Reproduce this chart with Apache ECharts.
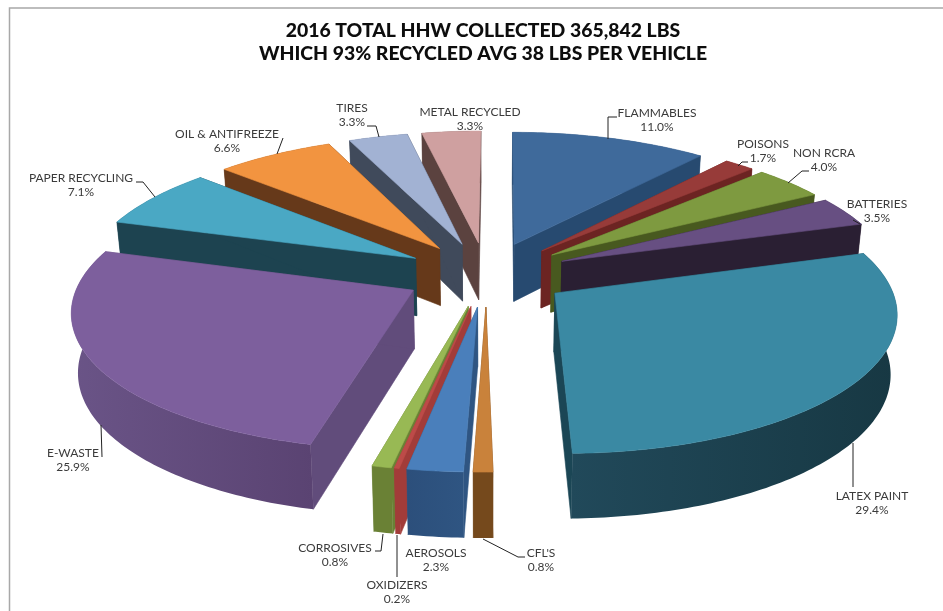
<!DOCTYPE html>
<html>
<head>
<meta charset="utf-8">
<title>2016 HHW collected</title>
<style>html,body{margin:0;padding:0;background:#fff}#chart{width:943px;height:611px}</style>
<script src="https://cdn.jsdelivr.net/npm/echarts@6/dist/echarts.min.js"></script>
</head>
<body>
<div id="chart"></div>
<script>
// Household hazardous waste shares, clockwise from twelve o'clock
const categories = ['FLAMMABLES', 'POISONS', 'NON RCRA', 'BATTERIES', 'LATEX PAINT', "CFL'S", 'AEROSOLS',
  'OXIDIZERS', 'CORROSIVES', 'E-WASTE', 'PAPER RECYCLING', 'OIL & ANTIFREEZE', 'TIRES', 'METAL RECYCLED'];
const shares = [11.0, 1.7, 4.0, 3.5, 29.4, 0.8, 2.3, 0.2, 0.8, 25.9, 7.1, 6.6, 3.3, 3.3];

const topColors = ['#3f6a9b', '#973b39', '#7e9a40', '#674f82', '#3a89a3', '#c9823b', '#4a7fbb',
  '#bd4b48', '#98b954', '#7d5f9d', '#4aa8c4', '#f29440', '#a2b2d3', '#cfa0a0'];
const wallColors = ['#274a70', '#6c2422', '#48591f', '#2a1f33', '#1b4655', '#75491c', '#2f5582',
  '#a23c39', '#6a8135', '#614c7b', '#1d4350', '#66391a', '#404a5b', '#5b423f'];
const rimColors = [['#274a70', '#274a70'], ['#6c2422', '#6c2422'], ['#48591f', '#48591f'], ['#2a1f33', '#2a1f33'],
  ['#21495a', '#173843'], ['#75491c', '#75491c'], ['#2c4f7b', '#2f5582'], ['#a23c39', '#a23c39'], ['#6a8135', '#6a8135'],
  ['#6a5487', '#5a4372'], ['#1d4350', '#1d4350'], ['#66391a', '#66391a'], ['#404a5b', '#404a5b'], ['#5b423f', '#5b423f']];

// Label anchor (centre of the two text lines) and leader polyline for each slice
const labelLayout = [
  { at: [657, 120], leader: [[617, 117], [608, 117], [608, 139]] },
  { at: [763, 151], leader: [[748, 162], [742, 162], [738, 166]] },
  { at: [824, 160], leader: [[809, 171], [802, 171], [788, 183]] },
  { at: [877, 211], leader: [[853, 220], [860, 224]] },
  { at: [872, 503], leader: [[853, 487], [853, 443]] },
  { at: [541, 560], leader: [[525, 557], [518, 557], [483, 539]] },
  { at: [436, 560], leader: [] },
  { at: [397, 592], leader: [[397, 577], [397, 535]] },
  { at: [335, 555], leader: [[375, 551], [381, 551], [383, 534]] },
  { at: [73, 460], leader: [[102, 457], [101, 425]] },
  { at: [81, 185], leader: [[136, 182], [143, 182], [155, 197]] },
  { at: [227, 141], leader: [[283, 138], [277, 154]] },
  { at: [352, 115], leader: [[367, 126], [376, 126], [379, 137]] },
  { at: [470, 119], leader: [] }
];

// Projection of the pie plane: one homography for the top face, one for the bottom face
const view = { cx: 488, cy: 274, a: 332, b: 134, k: 0.13, explodeU: 0.25, explodeV: 0.24,
  skew: 1.5, floor: 58, xShrink: 0.984, yGrow: 1.04 };

function project(u, v, bottom) {
  const w = 1 + view.k * v;
  const x = view.a * u / w + view.skew * (v - 1);
  const y = view.b * v / w;
  return bottom
    ? [view.cx + x * view.xShrink, view.cy + view.floor - y * view.yGrow]
    : [view.cx + x, view.cy - y];
}

const total = shares.reduce((s, v) => s + v, 0);
let running = 0;
const slices = shares.map((v, i) => {
  const a0 = running / total * 2 * Math.PI;
  running += v;
  const a1 = running / total * 2 * Math.PI;
  const mid = (a0 + a1) / 2;
  return { i, a0, a1, mid, ou: view.explodeU * Math.sin(mid), ov: view.explodeV * Math.cos(mid) };
});

function rimPoints(s, bottom) {
  const steps = Math.max(2, Math.ceil((s.a1 - s.a0) / (Math.PI / 180)));
  const pts = [];
  for (let n = 0; n <= steps; n++) {
    const t = s.a0 + (s.a1 - s.a0) * n / steps;
    pts.push(project(s.ou + Math.sin(t), s.ov + Math.cos(t), bottom));
  }
  return pts;
}

function wallPolygon(s, angle) {
  const u = s.ou + Math.sin(angle), v = s.ov + Math.cos(angle);
  return [project(s.ou, s.ov, false), project(u, v, false), project(u, v, true), project(s.ou, s.ov, true)];
}

// Painter's order: slices further from the viewer are drawn first
const paintOrder = slices.slice().sort((p, q) => Math.cos(q.mid) - Math.cos(p.mid));

function poly(points, fill) {
  return {
    type: 'polygon', silent: true, shape: { points },
    style: { fill, stroke: typeof fill === 'string' ? fill : null, lineWidth: typeof fill === 'string' ? 0.6 : 0 }
  };
}

function renderSlice(params) {
  const s = paintOrder[params.dataIndex];
  const i = s.i;
  const top = rimPoints(s, false);
  const low = rimPoints(s, true);
  const rim = new echarts.graphic.LinearGradient(0, 0, 1, 0, [
    { offset: 0, color: rimColors[i][0] }, { offset: 1, color: rimColors[i][1] }
  ]);
  return {
    type: 'group',
    children: [
      poly(wallPolygon(s, s.a0), wallColors[i]),
      poly(wallPolygon(s, s.a1), wallColors[i]),
      poly(top.concat(low.slice().reverse()), rim),
      poly([project(s.ou, s.ov, false)].concat(top), topColors[i])
    ]
  };
}

function renderLabel(params) {
  const i = params.dataIndex;
  const spot = labelLayout[i];
  const children = [{
    type: 'text', silent: true, x: spot.at[0], y: spot.at[1],
    style: {
      text: categories[i] + '\n' + shares[i].toFixed(1) + '%',
      x: 0, y: 0, align: 'center', verticalAlign: 'middle',
      fontFamily: 'Lato', fontSize: 12, lineHeight: 14.7, fill: '#3b3b3b'
    }
  }];
  if (spot.leader.length) {
    children.push({
      type: 'polyline', silent: true, shape: { points: spot.leader },
      style: { stroke: '#222222', lineWidth: 1, fill: null }
    });
  }
  return { type: 'group', children };
}

const chart = echarts.init(document.getElementById('chart'), null, { renderer: 'canvas' });
chart.setOption({
  animation: false,
  backgroundColor: '#ffffff',
  title: {
    text: '2016 TOTAL HHW COLLECTED 365,842 LBS\nWHICH 93% RECYCLED AVG 38 LBS PER VEHICLE',
    left: 478, top: 14, textAlign: 'center',
    textStyle: { fontFamily: 'Lato', fontWeight: 900, fontSize: 19.4, lineHeight: 23, color: '#0d0d0d' }
  },
  graphic: [
    { type: 'polyline', silent: true, shape: { points: [[9.5, 611], [9.5, 8], [943, 8]] },
      style: { stroke: '#a8a8a8', lineWidth: 1.5, fill: null } }
  ],
  series: [
    {
      type: 'custom', coordinateSystem: 'none', silent: true,
      renderItem: renderSlice,
      data: paintOrder.map(s => ({ name: categories[s.i], value: shares[s.i] }))
    },
    {
      type: 'custom', coordinateSystem: 'none', silent: true, z: 5,
      renderItem: renderLabel,
      data: categories.map((name, i) => ({ name, value: shares[i] }))
    }
  ]
});
</script>
</body>
</html>
